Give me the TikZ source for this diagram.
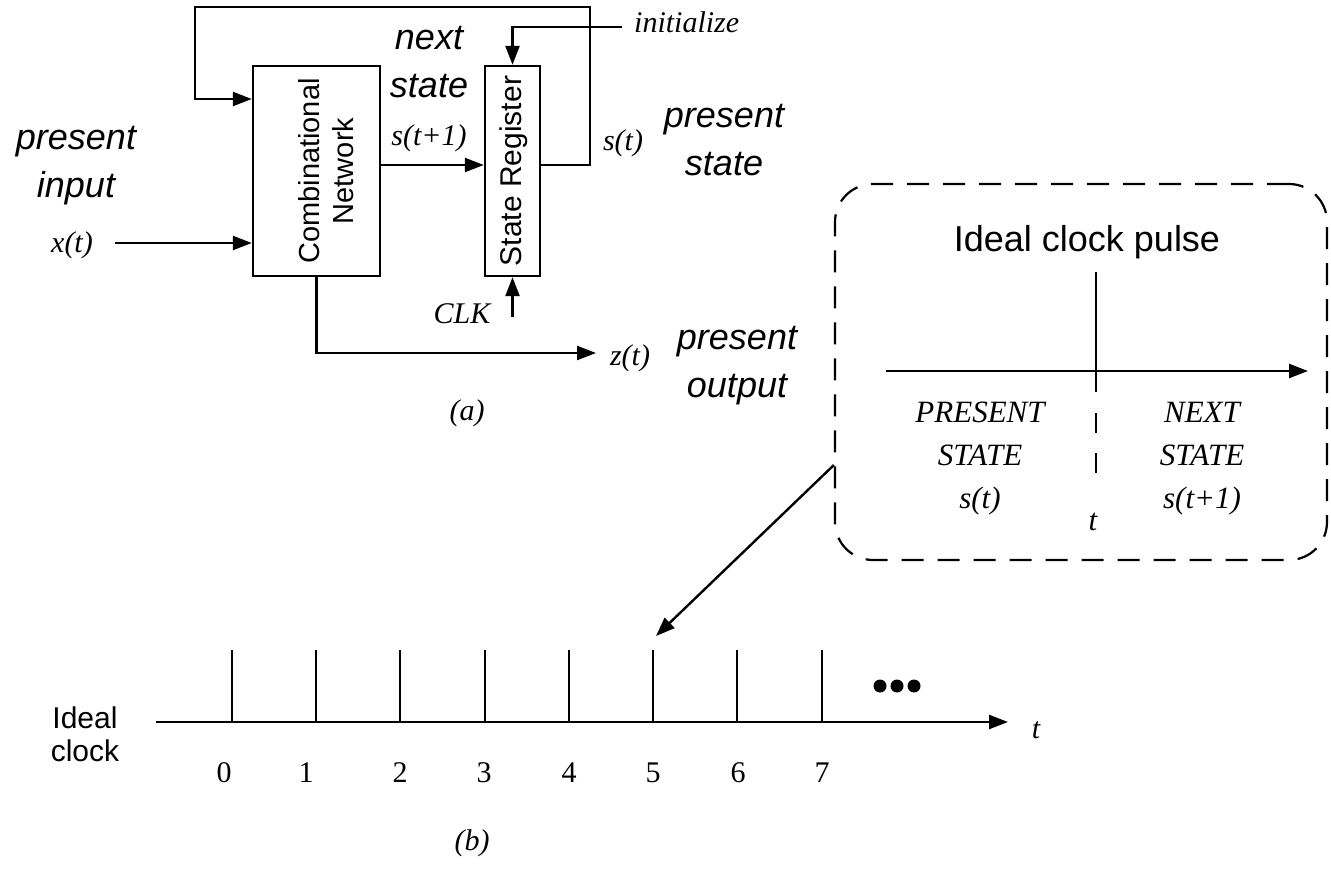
\documentclass[tikz,border=0pt]{standalone}
\usepackage{fontspec}
\setmainfont{Liberation Serif}
\setsansfont{Liberation Sans}
\usetikzlibrary{arrows.meta}
\tikzset{
  wire/.style={line width=2.4pt},
  arr/.style={wire, -{Triangle[length=19pt,width=14pt]}},
  blk/.style={draw, line width=2.4pt, inner sep=0pt},
  big/.style={font=\sffamily\itshape\fontsize{36}{48}\selectfont, align=center, inner sep=0pt},
  sig/.style={font=\itshape\fontsize{30}{36}\selectfont, inner sep=0pt},
  num/.style={font=\fontsize{30}{36}\selectfont, inner sep=0pt},
  statelbl/.style={font=\itshape\fontsize{31}{43}\selectfont, align=center, inner sep=0pt},
  plain/.style={font=\sffamily\fontsize{30}{33}\selectfont, align=center, inner sep=0pt},
}
\begin{document}
\begin{tikzpicture}[x=1pt,y=-1pt]
\useasboundingbox (0,0) rectangle (1331,877);

% ---------- (a) sequential network ----------
\node[blk, minimum width=127pt, minimum height=210pt] (comb) at (316.5,171) {};
\node[rotate=90, font=\sffamily\fontsize{29}{34}\selectfont, align=center] at (326,171) {Combinational\\Network};
\node[blk, minimum width=55pt, minimum height=210pt] (reg) at (512.5,171) {};
\node[rotate=90, font=\sffamily\fontsize{30}{34}\selectfont] at (514,171) {State Register};

% next state into the register
\draw[arr] ([yshift=6pt]comb.east) -- ([yshift=6pt]reg.west);

% present state fed back
\coordinate (loopR) at (590,7);
\coordinate (loopL) at (195,99);
\draw[arr] ([yshift=6pt]reg.east) -| (loopR) -| (loopL) -- (loopL -| comb.west);

% initialize
\coordinate (initS) at (622,27);
\draw[arr] (initS) -| (reg.north);
\node[sig, anchor=west] (initT) at (634,22) {initialize};

% clock
\coordinate (clkS) at (512.5,317);
\draw[arr] (clkS) -- (reg.south);
\node[sig] (clkT) at (462,314) {CLK};

% input
\coordinate (xS) at (115,243);
\draw[arr] (xS) -- (xS -| comb.west);
\node[sig] (xT) at (72,245) {x(t)};

% output
\coordinate (zE) at (596,353);
\draw[arr] (comb.south) |- (zE);
\node[sig] (zT) at (630,358) {z(t)};

% labels
\node[big] (pin) at (76,166) {present\\input};
\node[big] (nst) at (429,62) {next\\state};
\node[sig] (stp) at (429,138) {s(t+1)};
\node[sig] (st) at (623,143) {s(t)};
\node[big] (pst) at (724,140) {present\\state};
\node[big] (pout) at (737,366) {present\\output};
\node[sig] (la) at (467,413) {(a)};

% ---------- ideal clock pulse inset ----------
\node[draw, line width=2.2pt, dash pattern=on 22pt off 14pt, rounded corners=38pt,
      minimum width=492pt, minimum height=376pt] (pulsebox) at (1081,372) {};
\node[font=\sffamily\fontsize{36}{40}\selectfont, inner sep=0pt] (pt) at (1087,242) {Ideal clock pulse};
\coordinate (pv1) at (1096,272);
\coordinate (pv2) at (1096,392);
\coordinate (pv3) at (1096,413);
\coordinate (pv4) at (1096,477);
\draw[wire] (pv1) -- (pv2);
\draw[wire, dash pattern=on 20pt off 20pt] (pv3) -- (pv4);
\coordinate (ph1) at (886,371);
\coordinate (ph2) at (1308,371);
\draw[arr] (ph1) -- (ph2);
\node[statelbl] (ps) at (980,459) {PRESENT\\STATE\\s(t)};
\node[statelbl] (ns) at (1202,459) {NEXT\\STATE\\s(t+1)};
\node[statelbl] (tt) at (1093,522) {t};

% ---------- (b) ideal clock ----------
\coordinate (ax1) at (156,722);
\coordinate (ax2) at (1008,722);
\draw[arr] (ax1) -- (ax2);
\foreach \x/\lx/\n in {232/224/0, 316/306/1, 400/400/2, 485/484/3, 569/569/4, 653/653/5, 737/738/6, 822/822/7}{
  \draw[wire] (\x,650) -- (\x,722);
  \node[num] at (\lx,773) {\n};
}
\coordinate (tick5) at (656,636);
\draw[arr] ([yshift=-93pt]pulsebox.west) -- (tick5);
\foreach \x in {880,897,914}{\fill (\x,686) circle (6.5pt);}
\node[sig] (tb) at (1036,730) {t};
\node[plain] (ic) at (85,734) {Ideal\\clock};
\node[sig] (lb) at (472,843) {(b)};
\end{tikzpicture}
\end{document}
